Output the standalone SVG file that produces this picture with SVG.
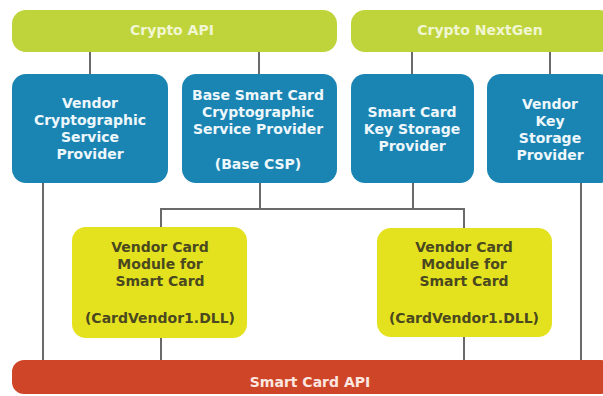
<svg xmlns="http://www.w3.org/2000/svg" width="603" height="396" viewBox="0 0 603 396">
  <style>
    text { font-family: "DejaVu Sans", "Open Sans", sans-serif; font-weight: 700; font-size: 14px; text-anchor: middle; }
    .api { fill: #bed43a; }
    .api-t { fill: #f1f6d2; }
    .prov { fill: #1a85b3; }
    .prov-t { fill: #eef7fb; }
    .mod { fill: #e4e21e; }
    .mod-t { fill: #4a4820; }
    .sc { fill: #cf4527; }
    .sc-t { fill: #fbe6e0; }
    .wire { stroke: #6a6a6a; stroke-width: 2; fill: none; }
  </style>
  <rect width="603" height="396" fill="#ffffff"/>

  <!-- connectors -->
  <g id="connectors" class="wire">
    <path d="M90 52V74"/>
    <path d="M259 52V74"/>
    <path d="M412 52V74"/>
    <path d="M550 52V74"/>
    <path d="M43 183V360"/>
    <path d="M581 183V360"/>
    <path d="M260 183V209"/>
    <path d="M413 183V209"/>
    <path d="M161 227V209H464V228"/>
    <path d="M161 338V360"/>
    <path d="M464 337V360"/>
  </g>

  <!-- top layer -->
  <g id="crypto-api">
    <rect class="api" x="12" y="10" width="325" height="42" rx="14"/>
    <text class="api-t" x="172" y="35">Crypto API</text>
  </g>
  <g id="crypto-nextgen">
    <rect class="api" x="351" y="10" width="262" height="42" rx="14"/>
    <text class="api-t" x="480" y="35">Crypto NextGen</text>
  </g>

  <!-- providers -->
  <g id="vendor-csp">
    <rect class="prov" x="12" y="74" width="156" height="109" rx="14"/>
    <text class="prov-t" x="90" y="108">Vendor</text>
    <text class="prov-t" x="90" y="125">Cryptographic</text>
    <text class="prov-t" x="90" y="142">Service</text>
    <text class="prov-t" x="90" y="159">Provider</text>
  </g>
  <g id="base-csp">
    <rect class="prov" x="182" y="74" width="155" height="109" rx="14"/>
    <text class="prov-t" x="258" y="100">Base Smart Card</text>
    <text class="prov-t" x="258" y="117">Cryptographic</text>
    <text class="prov-t" x="258" y="134">Service Provider</text>
    <text class="prov-t" x="258" y="169">(Base CSP)</text>
  </g>
  <g id="smart-card-ksp">
    <rect class="prov" x="351" y="74" width="123" height="109" rx="14"/>
    <text class="prov-t" x="412" y="117">Smart Card</text>
    <text class="prov-t" x="412" y="134">Key Storage</text>
    <text class="prov-t" x="412" y="151">Provider</text>
  </g>
  <g id="vendor-ksp">
    <rect class="prov" x="487" y="74" width="126" height="109" rx="14"/>
    <text class="prov-t" x="550" y="109">Vendor</text>
    <text class="prov-t" x="550" y="126">Key</text>
    <text class="prov-t" x="550" y="143">Storage</text>
    <text class="prov-t" x="550" y="160">Provider</text>
  </g>

  <!-- card modules -->
  <g id="card-module-1">
    <rect class="mod" x="72" y="227" width="175" height="111" rx="14"/>
    <text class="mod-t" x="160" y="252">Vendor Card</text>
    <text class="mod-t" x="160" y="269">Module for</text>
    <text class="mod-t" x="160" y="286">Smart Card</text>
    <text class="mod-t" x="160" y="323">(CardVendor1.DLL)</text>
  </g>
  <g id="card-module-2">
    <rect class="mod" x="377" y="228" width="175" height="109" rx="14"/>
    <text class="mod-t" x="464" y="252">Vendor Card</text>
    <text class="mod-t" x="464" y="269">Module for</text>
    <text class="mod-t" x="464" y="286">Smart Card</text>
    <text class="mod-t" x="464" y="323">(CardVendor1.DLL)</text>
  </g>

  <!-- bottom layer -->
  <g id="smart-card-api">
    <rect class="sc" x="12" y="360" width="601" height="34" rx="12"/>
    <text class="sc-t" x="310" y="387">Smart Card API</text>
  </g>
</svg>
